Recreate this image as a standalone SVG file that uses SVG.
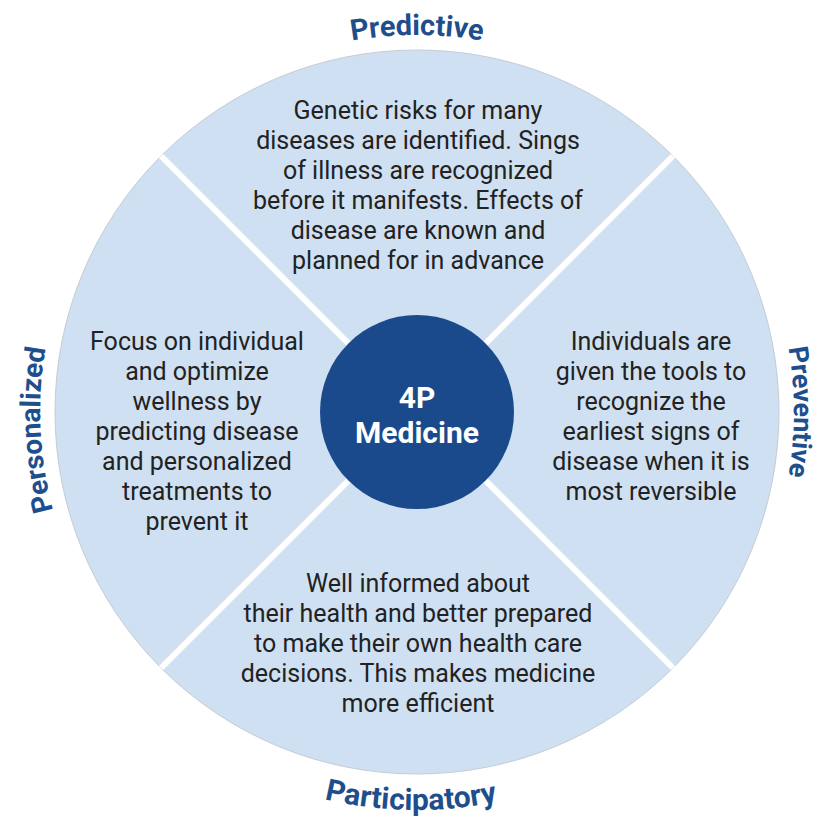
<svg xmlns="http://www.w3.org/2000/svg" width="822" height="817" viewBox="0 0 822 817">
<style>
.body{font-family:Roboto,"Liberation Sans",sans-serif;font-size:25px;fill:#222;text-anchor:middle}
.lab{font-family:Roboto,"Liberation Sans",sans-serif;font-weight:bold;fill:#1f4e8d;text-anchor:middle}
.ctr{font-family:Roboto,"Liberation Sans",sans-serif;font-size:30px;font-weight:bold;fill:#fff;text-anchor:middle}
.div{stroke:#fff;stroke-width:6}
</style>
<defs>
<path id="arcTop" d="M40,412 A377,377 0 0 1 794,412"/>
<path id="arcBot" d="M19,412 A398,398 0 0 0 815,412"/>
<path id="arcLeft" d="M417,789 A377,377 0 0 1 417,35"/>
<path id="arcRight" d="M417,35 A377,377 0 0 1 417,789"/>
</defs>
<rect width="822" height="817" fill="#fff"/>
<circle cx="417" cy="412" r="362" fill="#cfe0f2" stroke="#c4ccd4" stroke-width="1"/>
<g id="dividers">
<line class="div" x1="161" y1="156" x2="673" y2="668"/>
<line class="div" x1="673" y1="156" x2="161" y2="668"/>
</g>
<g id="predictive">
<text class="lab" font-size="29"><textPath href="#arcTop" startOffset="50%">Predictive</textPath></text>
<text class="body" x="418" y="119">Genetic risks for many</text>
<text class="body" x="418" y="149">diseases are identified. Sings</text>
<text class="body" x="418" y="179">of illness are recognized</text>
<text class="body" x="418" y="209">before it manifests. Effects of</text>
<text class="body" x="418" y="239">disease are known and</text>
<text class="body" x="418" y="269">planned for in advance</text>
</g>
<g id="personalized">
<text class="lab" font-size="28"><textPath href="#arcLeft" startOffset="48.5%">Personalized</textPath></text>
<text class="body" x="197" y="350">Focus on individual</text>
<text class="body" x="197" y="380">and optimize</text>
<text class="body" x="197" y="410">wellness by</text>
<text class="body" x="197" y="440">predicting disease</text>
<text class="body" x="197" y="470">and personalized</text>
<text class="body" x="197" y="500">treatments to</text>
<text class="body" x="197" y="530">prevent it</text>
</g>
<g id="preventive">
<text class="lab" font-size="27"><textPath href="#arcRight" startOffset="50%">Preventive</textPath></text>
<text class="body" x="651" y="350">Individuals are</text>
<text class="body" x="651" y="380">given the tools to</text>
<text class="body" x="651" y="410">recognize the</text>
<text class="body" x="651" y="440">earliest signs of</text>
<text class="body" x="651" y="470">disease when it is</text>
<text class="body" x="651" y="500">most reversible</text>
</g>
<g id="participatory">
<text class="lab" font-size="30"><textPath href="#arcBot" startOffset="49.5%">Participatory</textPath></text>
<text class="body" x="418" y="592">Well informed about</text>
<text class="body" x="418" y="622">their health and better prepared</text>
<text class="body" x="418" y="652">to make their own health care</text>
<text class="body" x="418" y="682">decisions. This makes medicine</text>
<text class="body" x="418" y="712">more efficient</text>
</g>
<g id="center">
<circle cx="417" cy="412" r="97" fill="#1b4a8c"/>
<text class="ctr" x="417" y="408">4P</text>
<text class="ctr" x="417" y="443">Medicine</text>
</g>
</svg>
